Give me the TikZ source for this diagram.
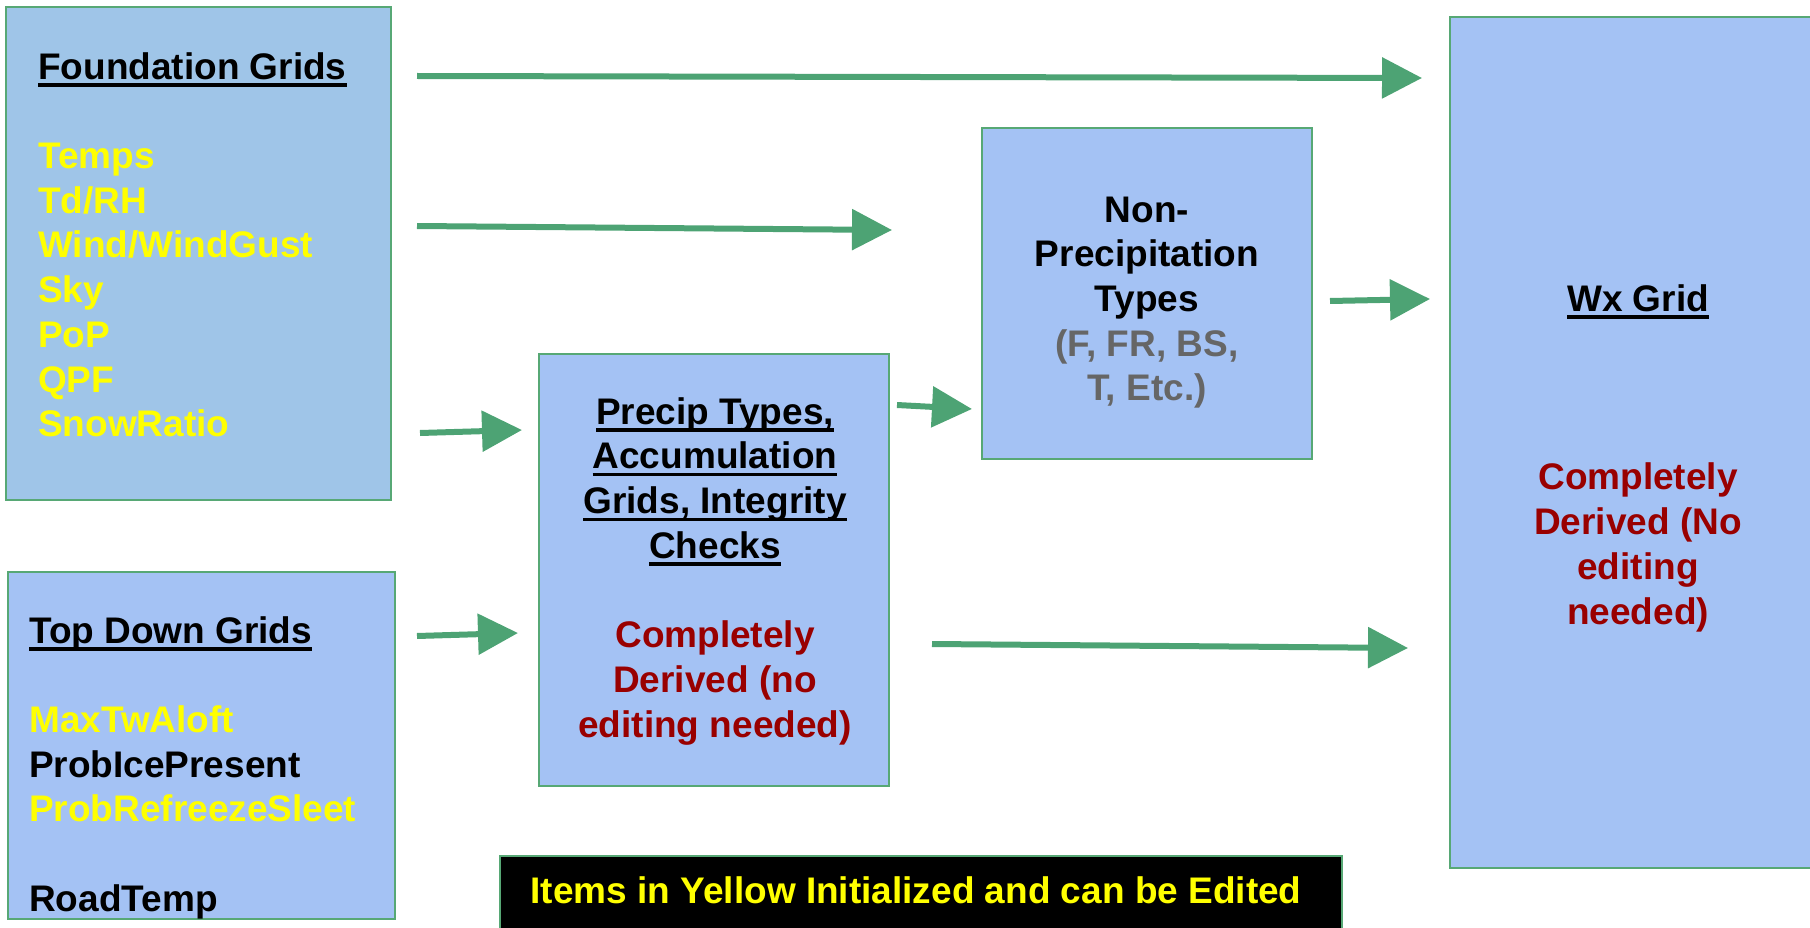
\documentclass[tikz,border=0pt]{standalone}
\usepackage{fontspec}
\setmainfont{Liberation Sans}
\usetikzlibrary{arrows.meta}
\definecolor{boxblue}{HTML}{A4C2F4}
\definecolor{fblue}{HTML}{9FC5E8}
\definecolor{bgreen}{HTML}{57A875}
\definecolor{agreen}{HTML}{4DA374}
\definecolor{yel}{HTML}{FFFF00}
\definecolor{dred}{HTML}{990000}
\definecolor{gtext}{HTML}{666666}
\newcommand\uln[1]{\leavevmode\setbox0\hbox{#1}\rlap{\vrule height -4pt depth 7.5pt width \wd0}\box0}
\begin{document}
\begin{tikzpicture}[x=1pt,y=-1pt,
  box/.style={draw=bgreen, line width=2pt, inner sep=0pt, anchor=north west},
  txt/.style={inner sep=0pt, font=\fontsize{37}{44.7}\selectfont\bfseries},
  arr/.style={draw=agreen, line width=6pt, -{Triangle[length=40pt,width=40pt]}}]
\useasboundingbox (0,0) rectangle (1810,928);
\clip (0,0) rectangle (1810,928);
% boxes
\node[box, fill=fblue, minimum width=385pt, minimum height=493pt] (found) at (5,6) {};
\node[box, fill=boxblue, minimum width=387pt, minimum height=347pt] (topdown) at (7,571) {};
\node[box, fill=boxblue, minimum width=350pt, minimum height=432pt] (precip) at (538,353) {};
\node[box, fill=boxblue, minimum width=330pt, minimum height=331pt] (nonprecip) at (981,127) {};
\node[box, fill=boxblue, minimum width=370pt, minimum height=851pt] (wx) at (1449,16) {};
\node[box, fill=black, minimum width=842pt, minimum height=90pt] (legend) at (499,855) {};
% texts
\node[txt, anchor=north west, align=left] (foundtxt) at (38,47.7)
  {\strut\uln{Foundation Grids}\\[44.7pt]
   \textcolor{yel}{Temps}\\\textcolor{yel}{Td/RH}\\\textcolor{yel}{Wind/WindGust}\\
   \textcolor{yel}{Sky}\\\textcolor{yel}{PoP}\\\textcolor{yel}{QPF}\\\textcolor{yel}{SnowRatio}};
\node[txt, anchor=north west, align=left] (topdowntxt) at (29,611.7)
  {\strut\uln{Top Down Grids}\\[44.7pt]
   \textcolor{yel}{MaxTwAloft}\\ProbIcePresent\\\textcolor{yel}{ProbRefreezeSleet}\\[44.7pt]
   RoadTemp};
\node[txt, anchor=north, align=center] (precipttxt) at (715,392.7)
  {\strut\uln{Precip Types,}\\\uln{Accumulation}\\\uln{Grids, Integrity}\\\uln{Checks}\\[44.7pt]
   \textcolor{dred}{Completely}\\\textcolor{dred}{Derived (no}\\\textcolor{dred}{editing needed)}};
\node[txt, anchor=north, align=center] (nonprecipttxt) at (1147,190.7)
  {\strut Non-\\Precipitation\\Types\\\textcolor{gtext}{(F, FR, BS,}\\\textcolor{gtext}{T, Etc.)}};
\node[txt, anchor=north, align=center] (wxtxt) at (1638,279.7)
  {\strut\uln{Wx Grid}\\[134.1pt]
   \textcolor{dred}{Completely}\\\textcolor{dred}{Derived (No}\\\textcolor{dred}{editing}\\\textcolor{dred}{needed)}};
\node[txt, anchor=base, text=yel] (legendtxt) at (916,903) {Items in Yellow Initialized and can be Edited};
% arrow endpoints
\coordinate (a1s) at (417,76);   \coordinate (a1e) at (1422,78);
\coordinate (a2s) at (417,226);  \coordinate (a2e) at (892,230);
\coordinate (a3s) at (420,433);  \coordinate (a3e) at (522,430);
\coordinate (a4s) at (417,636);  \coordinate (a4e) at (518,633);
\coordinate (a5s) at (897,405);  \coordinate (a5e) at (972,409);
\coordinate (a6s) at (1330,301); \coordinate (a6e) at (1430,299);
\coordinate (a7s) at (932,644);  \coordinate (a7e) at (1408,648);
\draw[arr] (a1s) -- (a1e);
\draw[arr] (a2s) -- (a2e);
\draw[arr] (a3s) -- (a3e);
\draw[arr] (a4s) -- (a4e);
\draw[arr] (a5s) -- (a5e);
\draw[arr] (a6s) -- (a6e);
\draw[arr] (a7s) -- (a7e);
\end{tikzpicture}
\end{document}
